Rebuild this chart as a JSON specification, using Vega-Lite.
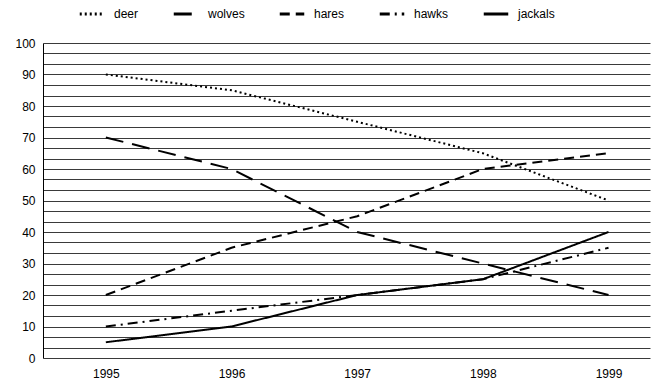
{
  "$schema": "https://vega.github.io/schema/vega-lite/v6.json",
  "width": 607,
  "height": 315,
  "autosize": {"type": "none"},
  "padding": {"left": 43, "top": 43, "right": 19, "bottom": 34},
  "background": "white",
  "config": {
    "font": "Liberation Sans",
    "view": {"stroke": null},
    "axis": {"labelFont": "Liberation Sans", "labelFontSize": 12, "labelColor": "black"},
    "legend": {"labelFont": "Liberation Sans", "labelFontSize": 12, "labelColor": "black"}
  },
  "data": {
    "values": [
      {"year": 1995, "animal": "deer", "value": 90},
      {"year": 1996, "animal": "deer", "value": 85},
      {"year": 1997, "animal": "deer", "value": 75},
      {"year": 1998, "animal": "deer", "value": 65},
      {"year": 1999, "animal": "deer", "value": 50},
      {"year": 1995, "animal": "wolves", "value": 70},
      {"year": 1996, "animal": "wolves", "value": 60},
      {"year": 1997, "animal": "wolves", "value": 40},
      {"year": 1998, "animal": "wolves", "value": 30},
      {"year": 1999, "animal": "wolves", "value": 20},
      {"year": 1995, "animal": "hares", "value": 20},
      {"year": 1996, "animal": "hares", "value": 35},
      {"year": 1997, "animal": "hares", "value": 45},
      {"year": 1998, "animal": "hares", "value": 60},
      {"year": 1999, "animal": "hares", "value": 65},
      {"year": 1995, "animal": "hawks", "value": 10},
      {"year": 1996, "animal": "hawks", "value": 15},
      {"year": 1997, "animal": "hawks", "value": 20},
      {"year": 1998, "animal": "hawks", "value": 25},
      {"year": 1999, "animal": "hawks", "value": 35},
      {"year": 1995, "animal": "jackals", "value": 5},
      {"year": 1996, "animal": "jackals", "value": 10},
      {"year": 1997, "animal": "jackals", "value": 20},
      {"year": 1998, "animal": "jackals", "value": 25},
      {"year": 1999, "animal": "jackals", "value": 40}
    ]
  },
  "mark": {"type": "line", "color": "black", "strokeWidth": 2, "clip": false},
  "encoding": {
    "x": {
      "field": "year",
      "type": "quantitative",
      "scale": {"domain": [1994.5, 1999.33], "nice": false, "zero": false},
      "axis": {
        "title": null,
        "values": [1995, 1996, 1997, 1998, 1999],
        "format": "d",
        "grid": false,
        "domain": false,
        "ticks": false,
        "labelPadding": 10
      }
    },
    "y": {
      "field": "value",
      "type": "quantitative",
      "scale": {"domain": [0, 100], "nice": false},
      "axis": {
        "title": null,
        "values": [0, 3.3333, 6.6667, 10, 13.3333, 16.6667, 20, 23.3333, 26.6667, 30, 33.3333, 36.6667, 40, 43.3333, 46.6667, 50, 53.3333, 56.6667, 60, 63.3333, 66.6667, 70, 73.3333, 76.6667, 80, 83.3333, 86.6667, 90, 93.3333, 96.6667, 100],
        "labelExpr": "abs(datum.value - round(datum.value / 10) * 10) < 0.01 ? format(round(datum.value), 'd') : ''",
        "grid": true,
        "gridColor": "#3a3a3a",
        "gridOpacity": 1,
        "gridWidth": 1,
        "domain": true,
        "domainColor": "black",
        "domainWidth": 1,
        "ticks": false,
        "labelPadding": 8
      }
    },
    "strokeDash": {
      "field": "animal",
      "type": "nominal",
      "scale": {
        "domain": ["deer", "wolves", "hares", "hawks", "jackals"],
        "range": [[2, 3], [18, 9], [10, 6], [10, 5, 2, 5], [1, 0]]
      },
      "legend": {
        "title": null,
        "orient": "none",
        "legendX": 35,
        "legendY": -43,
        "direction": "horizontal",
        "columns": 5,
        "symbolType": "stroke",
        "symbolStrokeColor": "black",
        "symbolStrokeWidth": 3,
        "symbolSize": 600,
        "columnPadding": 28,
        "labelOffset": 8
      }
    }
  }
}
